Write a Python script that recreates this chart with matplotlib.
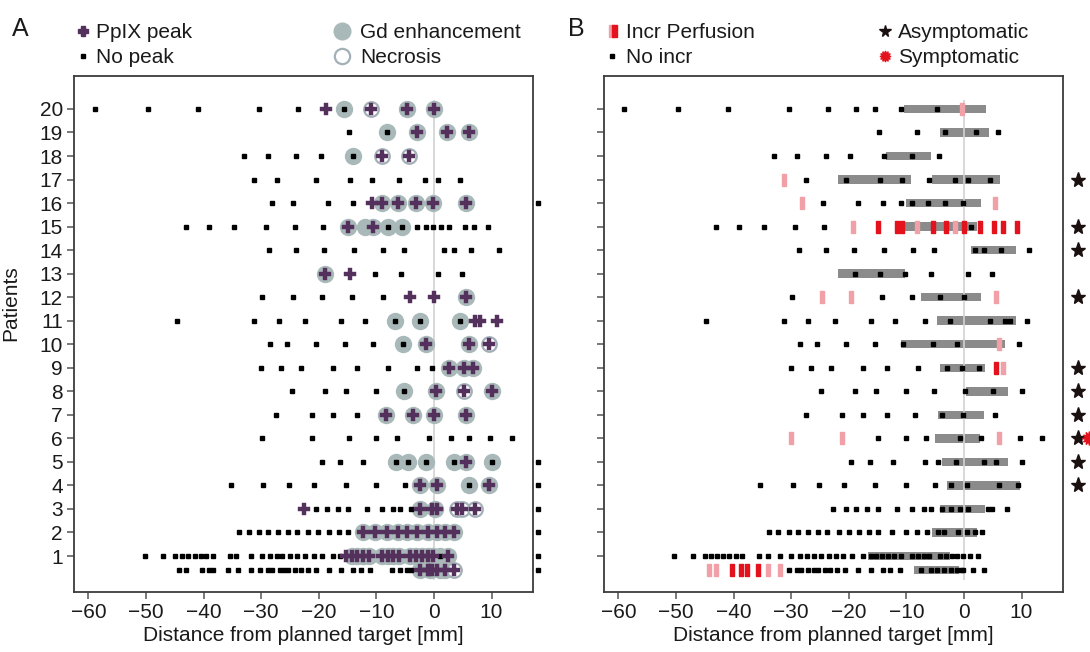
import matplotlib
matplotlib.use("Agg")
import matplotlib.pyplot as plt
import numpy as np

plt.rcParams["font.family"] = ["Liberation Sans", "DejaVu Sans"]

# ---- panel A data (mm from planned target, keyed by patient row) ----
A_NOPEAK = {
    20: [-58.9, -49.6, -40.9, -30.4, -23.6, -15.6],
    19: [-14.7, -8.2],
    18: [-33.0, -28.9, -24.0, -19.6, -14.0],
    17: [-31.3, -27.3, -20.4, -14.5, -10.7, -6.0, -1.6, 0.75, 4.6],
    16: [-28.1, -24.4, -18.4, -14.0],
    15: [-43.1, -39.0, -34.7, -29.2, -24.2, -19.2, -7.9, -5.5, -3.0, -1.4, -0.1, 1.2, 2.7, 5.4, 6.9, 9.3],
    14: [-28.6, -24.0, -19.1, -13.9, -8.9, -5.2, 1.7, 3.5, 6.5, 11.3],
    13: [-10.2, -5.8, 0.75, 4.8],
    12: [-29.8, -24.5, -19.5, -14.3, -8.9],
    11: [-44.7, -31.3, -26.9, -22.4, -16.2, -11.9, -6.8, -2.4, 4.5],
    10: [-28.4, -25.5, -20.5, -15.5, -10.5, -5.3],
    9: [-30.1, -26.6, -23.0, -17.5, -13.4, -7.9, -3.0, -0.3],
    8: [-24.7, -19.0, -15.2, -10.1, -5.2],
    7: [-27.5, -21.1, -17.5, -13.4],
    6: [-29.9, -21.1, -14.8, -10.0, -6.5, -0.8, 3.0, 6.1, 9.7, 13.6],
    5: [-19.5, -16.3, -12.3, -6.6, -4.5, -1.3, 3.5, 10.1],
    4: [-35.3, -29.6, -25.1, -20.8, -15.3, -10.1, -5.0, 6.1],
    3: [-20.4, -18.5, -16.7, -15.0, -11.6, -9.1, -7.1, -5.9, -3.9],
    2: [-33.9, -32.1, -30.4, -28.8, -27.0, -25.4, -23.7, -21.9, -20.2, -18.3, -16.5, -14.9],
    1: [-50.2, -47.0, -45.0, -43.8, -42.7, -41.5, -40.5, -39.5, -38.4, -35.4, -34.3, -31.8,
        -29.9, -28.5, -27.3, -26.3, -25.0, -23.7, -22.4, -20.9, -19.4, -17.5, -16.3, 1.0],
    0.4: [-44.2, -43.1, -40.2, -39.1, -38.3, -35.7, -34.0, -31.8, -30.2, -28.9, -28.1, -26.7,
          -26.0, -25.4, -24.1, -23.0, -21.9, -20.5, -18.3, -16.1, -14.0, -12.7, -11.1, -7.3,
          -5.9, -4.7, -3.9],
}
A_PEAK = {
    20: [-18.8, -11.0, -4.7, 0.0],
    19: [-3.0, 2.2, 6.1],
    18: [-9.1, -4.3],
    16: [-10.8, -9.0, -6.2, -3.1, -0.1, 5.6],
    15: [-14.9, -10.6],
    13: [-18.9, -14.5],
    12: [-4.2, 0.05, 5.5],
    11: [7.1, 8.0, 11.0],
    10: [-1.3, 6.1, 9.6],
    9: [2.7, 5.2, 6.7],
    8: [0.3, 5.2, 10.1],
    7: [-8.4, -3.6, 0.05, 5.5],
    5: [5.5],
    4: [-2.4, 0.6, 9.6],
    3: [-22.6, -2.4, -0.3, 0.6, 4.0, 4.9, 7.2],
    2: [-12.4, -10.2, -8.2, -6.2, -4.6, -3.0, -1.1, 0.5, 1.9, 3.4],
    1: [-15.3, -14.3, -13.3, -12.3, -11.3, -9.1, -8.0, -7.1, -6.0, -4.2, -3.1, -2.1, -1.1, -0.1, 2.4],
    0.4: [-2.4, -1.1, -0.8, -0.4, 0.5, 1.9, 3.5],
}
A_GD = {
    20: [-15.6, -4.7, 0.0],
    19: [-8.2, -3.0, 2.2, 6.1],
    18: [-14.0],
    16: [-9.0, -6.2, -3.1, -0.1, 5.6],
    15: [-14.9, -12.0, -10.6, -7.9, -5.5],
    13: [-18.9],
    12: [5.5],
    11: [-6.8, -2.4, 4.5],
    10: [-5.3, -1.3, 6.1],
    9: [2.7, 5.2, 6.7],
    8: [-5.2, 0.3, 10.1],
    7: [-8.4, -3.6, 0.05, 5.5],
    5: [-6.6, -4.5, -1.3, 3.5, 5.5, 10.1],
    4: [-2.4, 0.6, 6.1, 9.6],
    3: [-2.4, 0.2],
    2: [-12.4, -10.2, -8.2, -6.2, -4.6, -3.0, -1.1, 0.5, 1.9, 3.4],
    1: [-14.3, -13.3, -12.3, -11.3, -9.1, -8.0, -7.1, -6.0, -4.2, -3.1, -2.1, -1.1, -0.1, 1.0, 2.4],
    0.4: [-2.4, -0.7, 1.0, 1.9],
}
A_NECRO = {
    20: [-11.0],
    18: [-9.1, -4.3],
    10: [9.6],
    8: [5.2],
    3: [4.0, 4.9, 7.2],
    0.4: [3.5],
}
A_EDGE_ROWS = [16, 5, 4, 3, 2, 1, 0.4]

# ---- panel B data ----
B_NOINCR = {
    20: [-59.0, -49.7, -41.0, -30.4, -23.6, -18.8, -15.5, -11.0, -4.75],
    19: [-14.7, -8.2, -3.3, 2.1, 6.0],
    18: [-33.0, -29.0, -24.0, -19.7, -13.9, -9.0, -4.3],
    17: [-27.4, -20.4, -14.5, -10.8, -6.1, -1.6, 0.7, 4.5],
    16: [-24.5, -18.4, -14.0, -10.9, -9.0, -6.3, -3.3, -0.2],
    15: [-43.1, -39.1, -34.7, -29.3, -24.3, 1.3],
    14: [-28.7, -24.0, -19.1, -13.9, -8.9, -5.2, 1.9, 3.5, 6.5, 11.3],
    13: [-19.0, -14.6, -10.3, -5.8, 0.7, 4.8],
    12: [-29.9, -14.3, -9.0, -4.2, 0.06],
    11: [-44.8, -31.3, -27.0, -22.4, -16.2, -11.9, -6.8, -2.4, 4.5, 7.2, 8.0, 10.9],
    10: [-28.4, -25.5, -20.5, -15.5, -10.6, -5.4, -1.2, 9.6],
    9: [-30.1, -26.6, -23.0, -17.5, -13.4, -7.9, -3.0, -0.3, 2.7],
    8: [-24.8, -19.0, -15.2, -10.0, -5.2, 0.1, 5.1, 10.0],
    7: [-27.5, -21.2, -17.5, -13.4, -8.5, -3.8, -0.1, 5.4],
    6: [-14.9, -10.1, -6.6, -0.75, 3.0, 9.7, 13.6],
    5: [-19.6, -16.3, -12.3, -6.7, -4.5, -1.3, 3.5, 5.6, 10.0],
    4: [-35.4, -29.7, -25.1, -20.9, -15.4, -10.0, -5.0, -2.3, 0.5, 6.1, 9.4],
    3: [-22.7, -20.4, -18.7, -16.8, -15.0, -11.6, -9.1, -7.0, -5.8, -3.8, -2.2, -0.7, 0.75, 4.2, 4.9, 7.4],
    2: [-33.9, -32.3, -30.4, -28.9, -27.1, -25.4, -23.7, -21.7, -20.0, -18.3, -16.4, -15.0,
        -12.5, -10.1, -8.2, -6.5, -4.5, -3.5, -1.0, 0.5, 1.9, 3.1],
    1: [-50.3, -47.1, -45.0, -43.9, -42.9, -41.9, -40.8, -39.6, -38.6, -35.5, -34.1, -31.9,
        -30.0, -28.5, -27.2, -26.0, -24.8, -23.5, -22.3, -21.0, -19.4, -17.5, -16.2, -15.2,
        -14.2, -13.2, -12.1, -11.0, -9.0, -7.9, -7.0, -6.0, -4.2, -3.2, -2.0, -1.2, -0.1, 1.0, 2.4],
    0.4: [-30.3, -29.0, -28.3, -27.0, -26.1, -25.4, -24.2, -23.2, -22.1, -20.6, -18.4, -16.1,
          -14.0, -12.8, -11.1, -7.5, -5.8, -4.6, -3.5, -2.2, -1.2, -0.5, -0.1, 1.6, 3.4],
}
B_INCR_WEAK = {
    20: [-0.3],
    17: [-31.3],
    16: [-28.1, 5.4],
    15: [-19.2, -8.1, -1.6],
    12: [-24.6, -19.6, 5.5],
    10: [6.1],
    9: [6.8],
    6: [-30.0, -21.2, 6.1],
    0.4: [-44.2, -43.0, -34.0, -31.9],
}
B_INCR_STRONG = {
    15: [-15.0, -11.7, -10.7, -5.3, -3.1, 0.0, 2.8, 5.3, 6.8, 9.2],
    9: [5.6],
    0.4: [-40.3, -38.7, -37.7, -35.7],
}
B_GD_SPANS = {
    20: [(-10.4, 3.9)],
    19: [(-4.2, 4.3)],
    18: [(-13.6, -5.8)],
    17: [(-21.9, -9.2), (-5.5, 6.3)],
    16: [(-10.0, 3.0)],
    15: [(-11.0, 2.3)],
    14: [(1.2, 9.0)],
    13: [(-21.9, -10.3)],
    12: [(-7.4, 3.0)],
    11: [(-4.6, 9.0)],
    10: [(-10.9, 7.1)],
    9: [(-4.2, 3.7)],
    8: [(0.3, 7.7)],
    7: [(-4.5, 3.5)],
    6: [(-5.0, 2.8)],
    5: [(-3.8, 7.7)],
    4: [(-2.9, 9.7)],
    3: [(-4.2, 3.7)],
    2: [(-5.6, 2.3)],
    1: [(-16.6, -2.4)],
    0.4: [(-8.6, -0.9)],
}
ASYMPTOMATIC_ROWS = [17, 15, 14, 12, 9, 8, 7, 6, 5, 4]
SYMPTOMATIC_ROWS = [6]

PATIENTS = list(range(1, 21))
XTICKS = [-60, -50, -40, -30, -20, -10, 0, 10]

PURPLE = "#54305c"
GD_COL = "#a9b9b9"
NECRO_EDGE = "#a3b0b8"
PINK = "#f2a0a8"
RED = "#e3121c"
BAR_COL = "#8b8b8b"
SPINE = "#3c3c3c"
TEXT = "#1a1a1a"
RECT = [(-0.4, -1), (0.4, -1), (0.4, 1), (-0.4, 1), (-0.4, -1)]


def _points(d):
    xs, ys = [], []
    for row, vals in d.items():
        xs += vals
        ys += [row] * len(vals)
    return np.array(xs), np.array(ys)


def _style(ax, labels):
    ax.set_xlim(-62.5, 17.2)
    ax.set_ylim(-0.53, 21.4)
    ax.set_xticks(XTICKS)
    ax.set_yticks(PATIENTS)
    if labels:
        ax.set_yticklabels([str(p) for p in PATIENTS])
    else:
        ax.set_yticklabels([])
    for s in ax.spines.values():
        s.set_color(SPINE)
        s.set_linewidth(1.3)
    ax.tick_params(direction="out", length=5, width=1.1, color="#555555",
                   labelsize=15, labelcolor=TEXT, pad=3)
    ax.set_xlabel("Distance from planned target [mm]", fontsize=15, color=TEXT, labelpad=3)
    ax.vlines(0, 0.0, 20.4, color="#d2d2d2", lw=1.2, zorder=1.5)


fig = plt.figure(figsize=(10.9, 6.52), dpi=100)
axA = fig.add_axes([74 / 1090, 1 - 592 / 652, 459 / 1090, 516 / 652])
axB = fig.add_axes([604 / 1090, 1 - 592 / 652, 459 / 1090, 516 / 652])

# ---- panel A ----
x, y = _points(A_GD)
axA.plot(x, y, "o", ms=11.5, mfc=GD_COL, mec=GD_COL, lw=0, zorder=2)
x, y = _points(A_NECRO)
axA.plot(x, y, "o", ms=10.5, mfc="white", mec=NECRO_EDGE, mew=1.6, lw=0, zorder=2.5)
x, y = _points(A_NOPEAK)
axA.plot(x, y, "s", ms=3, color="black", lw=0, zorder=3)
x, y = _points(A_PEAK)
axA.plot(x, y, "P", ms=8.5, mfc=PURPLE, mec=PURPLE, mew=0.3, lw=0, zorder=4)
axA.plot([18.1] * len(A_EDGE_ROWS), A_EDGE_ROWS, "s", ms=2.5, color="black",
         lw=0, clip_on=False, zorder=5)
_style(axA, True)
axA.set_ylabel("Patients", fontsize=15, color=TEXT)
axA.yaxis.set_label_coords(-0.118, 0.56)

# ---- panel B ----
for row, spans in B_GD_SPANS.items():
    for a, b in spans:
        axB.barh(row, b - a, left=a, height=0.36, color=BAR_COL, zorder=1)
x, y = _points(B_INCR_WEAK)
axB.plot(x, y, ls="none", marker=RECT, ms=8.5, mfc=PINK, mec=PINK, zorder=3)
x, y = _points(B_INCR_STRONG)
axB.plot(x, y, ls="none", marker=RECT, ms=8.5, mfc=RED, mec=RED, zorder=3.1)
x, y = _points(B_NOINCR)
axB.plot(x, y, "s", ms=3, color="black", lw=0, zorder=4)
axB.plot([19.8] * len(ASYMPTOMATIC_ROWS), ASYMPTOMATIC_ROWS, "*", ms=11,
         color="#1a1010", lw=0, clip_on=False, zorder=5)
axB.plot([21.7] * len(SYMPTOMATIC_ROWS), SYMPTOMATIC_ROWS, ls="none",
         marker=(12, 1, 0), ms=10, color=RED, clip_on=False, zorder=5)
_style(axB, False)

# ---- legends and panel letters (pixel overlay) ----
ov = fig.add_axes([0, 0, 1, 1])
ov.set_xlim(0, 1090)
ov.set_ylim(652, 0)
ov.axis("off")
ov.patch.set_alpha(0)

ov.text(12, 36, "A", fontsize=18, color=TEXT)
ov.text(568, 36, "B", fontsize=18, color=TEXT)

ov.plot(83, 31, "P", ms=6.5, color=PURPLE)
ov.plot(83, 56, "s", ms=3, color="black")
ov.plot(342, 31, "o", ms=12, mfc=GD_COL, mec=GD_COL)
ov.plot(342, 56, "o", ms=11, mfc="white", mec=NECRO_EDGE, mew=1.6)
ov.text(96, 38, "PpIX peak", fontsize=15, color=TEXT)
ov.text(96, 63, "No peak", fontsize=15, color=TEXT)
ov.text(360, 38, "Gd enhancement", fontsize=15, color=TEXT)
ov.text(360, 63, "Necrosis", fontsize=15, color=TEXT)

ov.plot(610.5, 31, ls="none", marker=RECT, ms=9, mfc=PINK, mec=PINK)
ov.plot(614, 31, ls="none", marker=RECT, ms=9, mfc=RED, mec=RED)
ov.plot(612, 56, "s", ms=3, color="black")
ov.plot(885, 31, "*", ms=8.5, color="#1a1010")
ov.plot(885, 56, ls="none", marker=(12, 1, 0), ms=8, color=RED)
ov.text(626, 38, "Incr Perfusion", fontsize=15, color=TEXT)
ov.text(626, 63, "No incr", fontsize=15, color=TEXT)
ov.text(898, 38, "Asymptomatic", fontsize=15, color=TEXT)
ov.text(898, 63, "Symptomatic", fontsize=15, color=TEXT)

fig.savefig("out.png", dpi=100)
